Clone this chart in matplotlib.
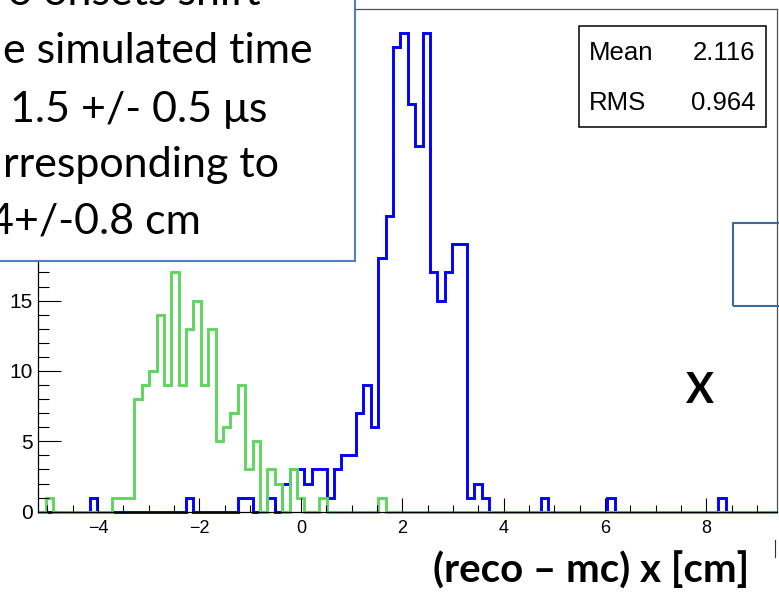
import numpy as np
import matplotlib
matplotlib.use('Agg')
import matplotlib.pyplot as plt
from matplotlib.patches import Rectangle
from matplotlib.lines import Line2D
from matplotlib.ticker import MultipleLocator, FixedLocator

# 直方图范围 (100 bins)
x_lo, x_hi = -5.18, 9.40
n_bins = 100

# reco - mc, 蓝色 (shifted)
blue_counts = [
    0, 0, 0, 0, 0, 0, 0, 1, 0, 0, 0, 0, 0, 0, 0, 0, 0, 0, 0, 0,
    1, 0, 0, 0, 0, 0, 0, 1, 1, 0, 0, 1, 0, 2, 3, 3, 2, 3, 3, 1,
    3, 4, 4, 7, 9, 6, 18, 21, 33, 34, 29, 26, 34, 17, 15, 17, 19, 19, 1, 2,
    1, 0, 0, 0, 0, 0, 0, 0, 1, 0, 0, 0, 0, 0, 0, 0, 0, 1, 0, 0,
    0, 0, 0, 0, 0, 0, 0, 0, 0, 0, 0, 0, 1, 0, 0, 0, 0, 0, 0, 0,
]
# 绿色 (unshifted)
green_counts = [
    0, 1, 0, 0, 0, 0, 0, 0, 0, 0, 1, 1, 1, 8, 9, 10, 14, 9, 17, 9,
    13, 15, 9, 13, 5, 6, 7, 9, 3, 5, 0, 3, 2, 0, 3, 1, 0, 0, 1, 0,
    0, 0, 0, 0, 0, 0, 1, 0, 0, 0, 0, 0, 0, 0, 0, 0, 0, 0, 0, 0,
    0, 0, 0, 0, 0, 0, 0, 0, 0, 0, 0, 0, 0, 0, 0, 0, 0, 0, 0, 0,
    0, 0, 0, 0, 0, 0, 0, 0, 0, 0, 0, 0, 0, 0, 0, 0, 0, 0, 0, 0,
]
y_major = [0, 5, 10, 15]
stat_names = ['Mean', 'RMS']
stat_values = ['2.116', '0.964']
note_lines = ['o onsets shift', 'e simulated time', '1.5 +/- 0.5 \u03bcs',
              'rresponding to', '4+/-0.8 cm']
x_title = '(reco \u2013 mc) x [cm]'

W, H = 779, 593


def fx(px):
    return px / W


def fy(py):
    return 1 - py / H


fig = plt.figure(figsize=(W / 100, H / 100), dpi=100)
ax = fig.add_axes([fx(38.3), fy(511.7), (777.3 - 38.3) / W, (511.7 - 9.3) / H])

edges = np.linspace(x_lo, x_hi, n_bins + 1)
ax.stairs(blue_counts, edges, color='#0000ff', lw=2.1, clip_on=False)
ax.stairs(green_counts, edges, color='#5fd75f', lw=2.1, clip_on=False)

ax.set_xlim(x_lo, x_hi)
ax.set_ylim(0, max(blue_counts) * 1.05)

ax.xaxis.set_major_locator(MultipleLocator(2))
ax.xaxis.set_minor_locator(MultipleLocator(0.5))
ax.yaxis.set_major_locator(FixedLocator(y_major))
ax.yaxis.set_minor_locator(MultipleLocator(1))
ax.tick_params(which='both', direction='in', top=False, right=False, width=0.8)
ax.tick_params(axis='y', which='major', length=16.5, labelsize=15, pad=4)
ax.tick_params(axis='y', which='minor', length=8)
ax.tick_params(axis='x', which='major', length=10, labelsize=13, pad=6)
ax.tick_params(axis='x', which='minor', length=5)
for lab in ax.get_xticklabels() + ax.get_yticklabels():
    lab.set_family('Liberation Sans')

for s in ['top', 'right']:
    ax.spines[s].set_color('#505050')
    ax.spines[s].set_linewidth(0.9)
for s in ['left', 'bottom']:
    ax.spines[s].set_color('black')
    ax.spines[s].set_linewidth(0.9)

# 统计框
fig.patches.append(Rectangle((fx(579.3), fy(127.3)), (765.7 - 579.3) / W, (127.3 - 26) / H,
                             transform=fig.transFigure, facecolor='white',
                             edgecolor='black', lw=1.1, zorder=5))
for i, (nm, val) in enumerate(zip(stat_names, stat_values)):
    yy = fy(52.7 + 50 * i)
    fig.text(fx(589), yy, nm, ha='left', va='center', fontsize=18.5,
             family='Liberation Sans', zorder=6)
    fig.text(fx(755), yy, val, ha='right', va='center', fontsize=18.5,
             family='Liberation Sans', zorder=6)

# 左上角文字框
fig.patches.append(Rectangle((fx(-10), fy(261)), 365 / W, 280 / H,
                             transform=fig.transFigure, facecolor='white',
                             edgecolor='#4f81bd', lw=1.5, zorder=7))
centers = [134, 157.5, 138.5, 141, 95]
baselines = [5, 63, 122, 177, 233]
for txt, xc, yb in zip(note_lines, centers, baselines):
    fig.text(fx(xc), fy(yb), txt, ha='center', va='baseline', fontsize=31,
             family=['Lato', 'DejaVu Sans'], zorder=8)

# 右侧框
fig.patches.append(Rectangle((fx(732.7), fy(306)), 80 / W, (306 - 223.3) / H,
                             transform=fig.transFigure, fill=False,
                             edgecolor='#3e6a9b', lw=1.5, zorder=7))

fig.text(fx(700), fy(403.3), 'X', ha='center', va='baseline', fontsize=30,
         fontweight='bold', family='Lato')
fig.text(fx(591.5), fy(583), x_title, ha='center', va='baseline', fontsize=29,
         fontweight='bold', family='Lato')
fig.add_artist(Line2D([fx(775), fx(775)], [fy(540), fy(557)],
                      transform=fig.transFigure, color='#333333', lw=0.8))

fig.savefig('out.png', dpi=100)
